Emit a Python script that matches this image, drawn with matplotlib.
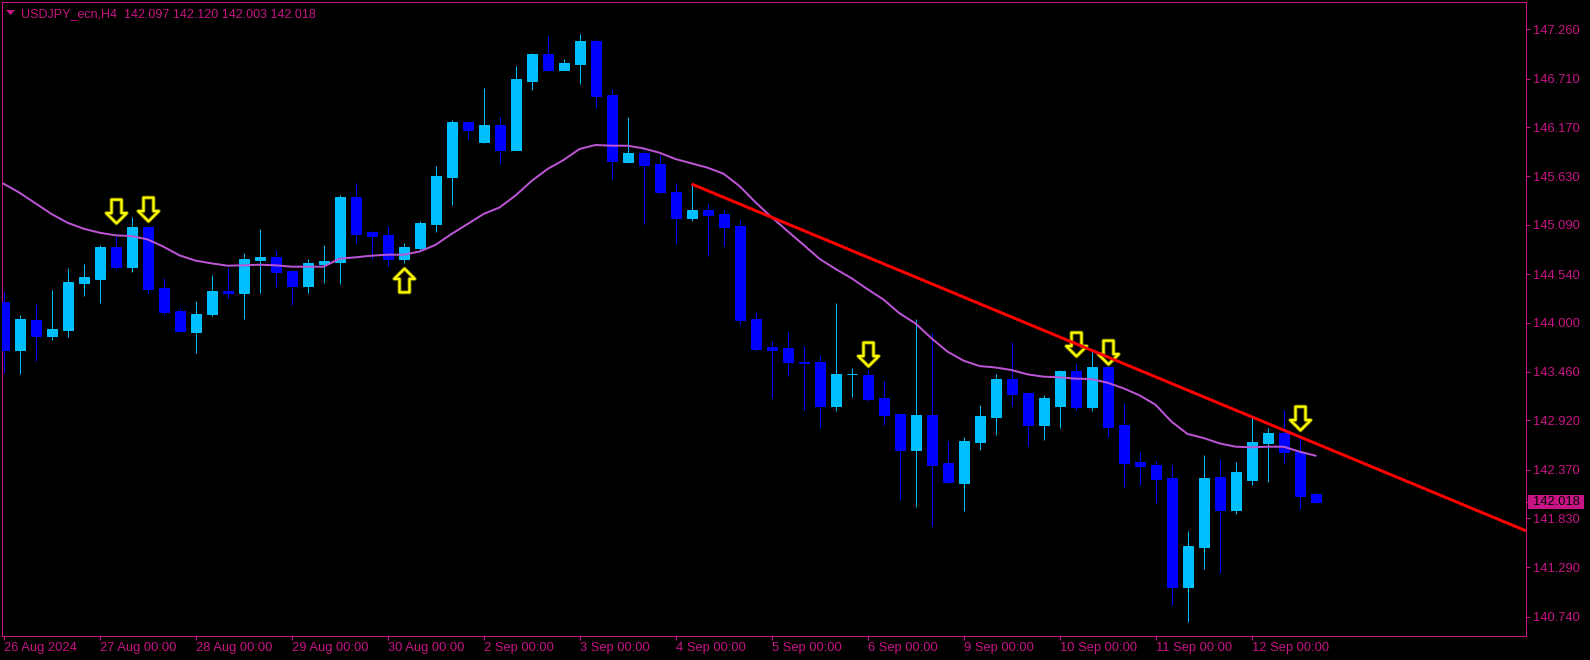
import matplotlib
matplotlib.use("Agg")
import matplotlib.pyplot as plt
import numpy as np
from matplotlib.path import Path
from matplotlib.markers import MarkerStyle
from matplotlib.patches import Polygon, Rectangle
import matplotlib.transforms as mtransforms

# ---------------- data ----------------
title_text = "USDJPY_ecn,H4  142.097 142.120 142.003 142.018"

opens = [144.233, 143.700, 144.033, 143.859, 143.922, 144.447, 144.492, 144.843, 144.621, 145.065,
         144.388, 144.133, 143.900, 144.100, 144.355, 144.333, 144.699, 144.732, 144.577, 144.410,
         144.655, 144.677, 145.398, 145.010, 144.977, 144.710, 144.832, 145.099, 145.620, 146.231,
         146.009, 146.198, 145.920, 146.686, 146.986, 146.808, 146.875, 147.130, 146.530, 145.787,
         145.887, 145.765, 145.454, 145.165, 145.254, 145.209, 145.076, 144.040, 143.730, 143.722,
         143.563, 143.567, 143.082, 143.432, 143.423, 143.167, 142.990, 142.590, 142.979, 142.442,
         142.224, 142.679, 142.956, 143.378, 143.223, 142.868, 143.079, 143.467, 143.067, 143.511,
         142.868, 142.457, 142.424, 142.279, 141.069, 141.513, 142.290, 141.924, 142.257, 142.668,
         142.779, 142.572, 142.097]
highs = [144.359, 144.089, 144.211, 144.366, 144.614, 144.655, 144.866, 144.958, 145.176, 145.076,
         144.499, 144.166, 144.244, 144.533, 144.610, 144.777, 145.043, 144.810, 144.590, 144.710,
         144.866, 145.420, 145.554, 145.021, 145.076, 144.888, 145.132, 145.742, 146.253, 146.242,
         146.608, 146.286, 146.852, 146.997, 147.185, 146.930, 147.208, 147.152, 146.597, 146.286,
         145.920, 145.865, 145.554, 145.543, 145.320, 145.265, 145.143, 144.118, 143.796, 143.900,
         143.744, 143.645, 144.222, 143.500, 143.478, 143.356, 143.000, 144.044, 143.889, 142.690,
         142.734, 143.090, 143.434, 143.789, 143.223, 143.200, 143.478, 143.545, 143.681, 143.534,
         143.112, 142.568, 142.468, 142.424, 141.691, 142.535, 142.490, 142.457, 142.956, 142.834,
         143.034, 142.738, 142.120]
lows = [143.441, 143.434, 143.578, 143.811, 143.848, 144.303, 144.225, 144.592, 144.566, 144.322,
        144.089, 143.900, 143.667, 144.077, 144.277, 144.044, 144.333, 144.399, 144.199, 144.333,
        144.444, 144.433, 144.888, 144.710, 144.632, 144.666, 144.810, 145.010, 145.309, 146.042,
        145.998, 145.765, 145.920, 146.586, 146.797, 146.808, 146.653, 146.386, 145.598, 145.787,
        145.099, 145.432, 144.877, 145.132, 144.743, 144.854, 143.989, 143.689, 143.167, 143.411,
        143.034, 142.838, 143.027, 143.178, 143.134, 142.868, 142.035, 141.957, 141.746, 142.220,
        141.913, 142.590, 142.757, 143.078, 142.634, 142.705, 142.838, 143.038, 143.023, 142.734,
        142.179, 142.202, 142.002, 140.870, 140.681, 141.269, 141.225, 141.880, 142.202, 142.235,
        142.446, 141.935, 142.003]
closes = [143.700, 144.044, 143.859, 143.933, 144.455, 144.510, 144.843, 144.621, 145.065, 144.377,
          144.122, 143.907, 144.100, 144.355, 144.333, 144.710, 144.732, 144.566, 144.410, 144.666,
          144.688, 145.398, 144.988, 144.965, 144.710, 144.843, 145.110, 145.631, 146.231, 146.142,
          146.198, 145.920, 146.708, 146.986, 146.808, 146.886, 147.130, 146.519, 145.798, 145.887,
          145.754, 145.454, 145.165, 145.254, 145.198, 145.065, 144.033, 143.711, 143.704, 143.570,
          143.560, 143.082, 143.434, 143.434, 143.156, 142.979, 142.590, 142.979, 142.424, 142.231,
          142.690, 142.967, 143.378, 143.212, 142.868, 143.167, 143.467, 143.067, 143.511, 142.845,
          142.446, 142.416, 142.268, 141.069, 141.524, 142.279, 141.924, 142.346, 142.679, 142.779,
          142.572, 142.079, 142.018]
ma_values = [145.546, 145.446, 145.328, 145.210, 145.113, 145.047, 145.002, 144.973, 144.965, 144.928,
             144.847, 144.751, 144.692, 144.662, 144.636, 144.640, 144.647, 144.640, 144.625, 144.625,
             144.625, 144.714, 144.729, 144.747, 144.758, 144.758, 144.793, 144.867, 144.988, 145.098,
             145.210, 145.282, 145.415, 145.576, 145.709, 145.809, 145.931, 145.976, 145.968, 145.968,
             145.938, 145.890, 145.820, 145.772, 145.724, 145.657, 145.520, 145.340, 145.175, 145.020,
             144.868, 144.712, 144.600, 144.497, 144.375, 144.260, 144.107, 143.995, 143.830, 143.682,
             143.582, 143.522, 143.506, 143.478, 143.430, 143.404, 143.397, 143.382, 143.378, 143.337,
             143.275, 143.197, 143.093, 142.905, 142.768, 142.723, 142.664, 142.627, 142.620, 142.627,
             142.627, 142.572, 142.527]

xtick_idx = [0, 6, 12, 18, 24, 30, 36, 42, 48, 54, 60, 66, 72, 78]
xtick_labels = ["26 Aug 2024", "27 Aug 00:00", "28 Aug 00:00", "29 Aug 00:00", "30 Aug 00:00",
                "2 Sep 00:00", "3 Sep 00:00", "4 Sep 00:00", "5 Sep 00:00", "6 Sep 00:00",
                "9 Sep 00:00", "10 Sep 00:00", "11 Sep 00:00", "12 Sep 00:00"]
ytick_values = [147.26, 146.71, 146.17, 145.63, 145.09, 144.54, 144.00,
                143.46, 142.92, 142.37, 141.83, 141.29, 140.74]
ytick_labels = ["147.260", "146.710", "146.170", "145.630", "145.090", "144.540", "144.000",
                "143.460", "142.920", "142.370", "141.830", "141.290", "140.740"]

down_arrow_idx = [7, 9, 54, 67, 69, 81]
down_arrow_price = [145.243, 145.265, 143.656, 143.767, 143.678, 142.945]
up_arrow_idx = [25]
up_arrow_price = [144.472]

trend_idx = [43, 81]
trend_price = [145.543, 142.738]
last_price = 142.018
last_label = "142.018"

# ---------------- style ----------------
W, H = 1590, 660
FG = "#C71585"
BULL = "#00BFFF"
BEAR = "#0000FF"
MA_COLOR = "#BA55D3"
FONT = "Liberation Sans"
PX = 72.0 / 100.0  # points per pixel

fig = plt.figure(figsize=(W / 100, H / 100), dpi=100, facecolor="black")
left_px, right_px, top_px, bot_px = 2, 1526, 2.3, 636
ax_w_px = right_px - left_px
ax = fig.add_axes([left_px / W, 1 - bot_px / H, ax_w_px / W, (bot_px - top_px) / H])
ax.set_facecolor("black")

n = len(opens)
x = np.arange(n)
o = np.array(opens); c = np.array(closes); hi = np.array(highs); lo = np.array(lows)
colors = np.where(c > o, BULL, BEAR)

ax.set_xlim(-0.094, 95.156)
ax.set_ylim(140.5256, 147.5597)

ax.vlines(x, lo, hi, colors=colors, linewidth=1 * PX, zorder=2)
ax.bar(x, np.abs(c - o), bottom=np.minimum(o, c), width=10 / 16, color=colors,
       edgecolor=colors, linewidth=1 * PX, zorder=3)

ax.plot(x, ma_values, color=MA_COLOR, linewidth=2 * PX, zorder=4)

# trend ray from first anchor through second anchor to right edge
slope = (trend_price[1] - trend_price[0]) / (trend_idx[1] - trend_idx[0])
x_end = ax.get_xlim()[1]
ax.plot([trend_idx[0], x_end], [trend_price[0], trend_price[0] + slope * (x_end - trend_idx[0])],
        color="#FF0000", linewidth=3 * PX, solid_capstyle="butt", zorder=6)

# arrow markers
dn_verts = [(-5, 11.85), (5, 11.85), (5, -1.6), (10.3, -1.6), (0, -11.85),
            (-10.3, -1.6), (-5, -1.6), (-5, 11.85)]
dn_path = Path(dn_verts, closed=True)
up_path = Path([(vx, -vy) for vx, vy in dn_verts], closed=True)
msize = 23.7 * PX
for path, xi, yi in [(dn_path, down_arrow_idx, down_arrow_price), (up_path, up_arrow_idx, up_arrow_price)]:
    ax.plot(xi, yi, linestyle="none", marker=MarkerStyle(path), markersize=msize,
            markerfacecolor="black", markeredgecolor="#6b6b00", markeredgewidth=4.0 * PX, zorder=5)
    ax.plot(xi, yi, linestyle="none", marker=MarkerStyle(path), markersize=msize,
            markerfacecolor="none", markeredgecolor="#FFFF00", markeredgewidth=2.2 * PX, zorder=5)

# axes styling
for sp in ax.spines.values():
    sp.set_color(FG)
    sp.set_linewidth(1 * PX)
ax.yaxis.tick_right()
ax.set_yticks(ytick_values, ytick_labels)
ax.set_xticks(xtick_idx, xtick_labels)
ax.tick_params(axis="y", direction="out", length=3.5 * PX, width=1 * PX, color=FG,
               labelcolor=FG, labelsize=9.3, pad=3.5 * PX)
ax.tick_params(axis="x", direction="out", length=4 * PX, width=1 * PX, color=FG,
               labelcolor=FG, labelsize=9.3, pad=2 * PX)
for lab in ax.get_xticklabels():
    lab.set_horizontalalignment("left")
    lab.set_fontfamily(FONT)
for lab in ax.get_yticklabels():
    lab.set_fontfamily(FONT)

# last price label on the price scale
blend = mtransforms.blended_transform_factory(ax.transAxes, ax.transData)
box_h = 14 / 90.09
ax.add_patch(Rectangle((1.0 + 2 / ax_w_px, last_price - box_h / 2), 56 / ax_w_px, box_h,
                       transform=blend, facecolor=FG, edgecolor="none", clip_on=False, zorder=7))
ax.plot([1.0, 1.0 + 3 / ax_w_px], [last_price, last_price], transform=blend, color=FG,
        linewidth=1 * PX, clip_on=False, zorder=7)
ax.text(1.0 + 7 / ax_w_px, last_price, last_label, transform=blend, ha="left", va="center",
        color="black", fontsize=9.3, family=FONT, clip_on=False, zorder=8)

# title
fig.add_artist(Polygon([(6 / W, 1 - 10 / H), (15 / W, 1 - 10 / H), (10.5 / W, 1 - 15 / H)],
                       closed=True, transform=fig.transFigure, facecolor=FG, edgecolor="none"))
fig.text(21 / W, 1 - 17.3 / H, title_text, color=FG, fontsize=9, family=FONT,
         ha="left", va="baseline")

fig.savefig("out.png", dpi=100, facecolor="black")
